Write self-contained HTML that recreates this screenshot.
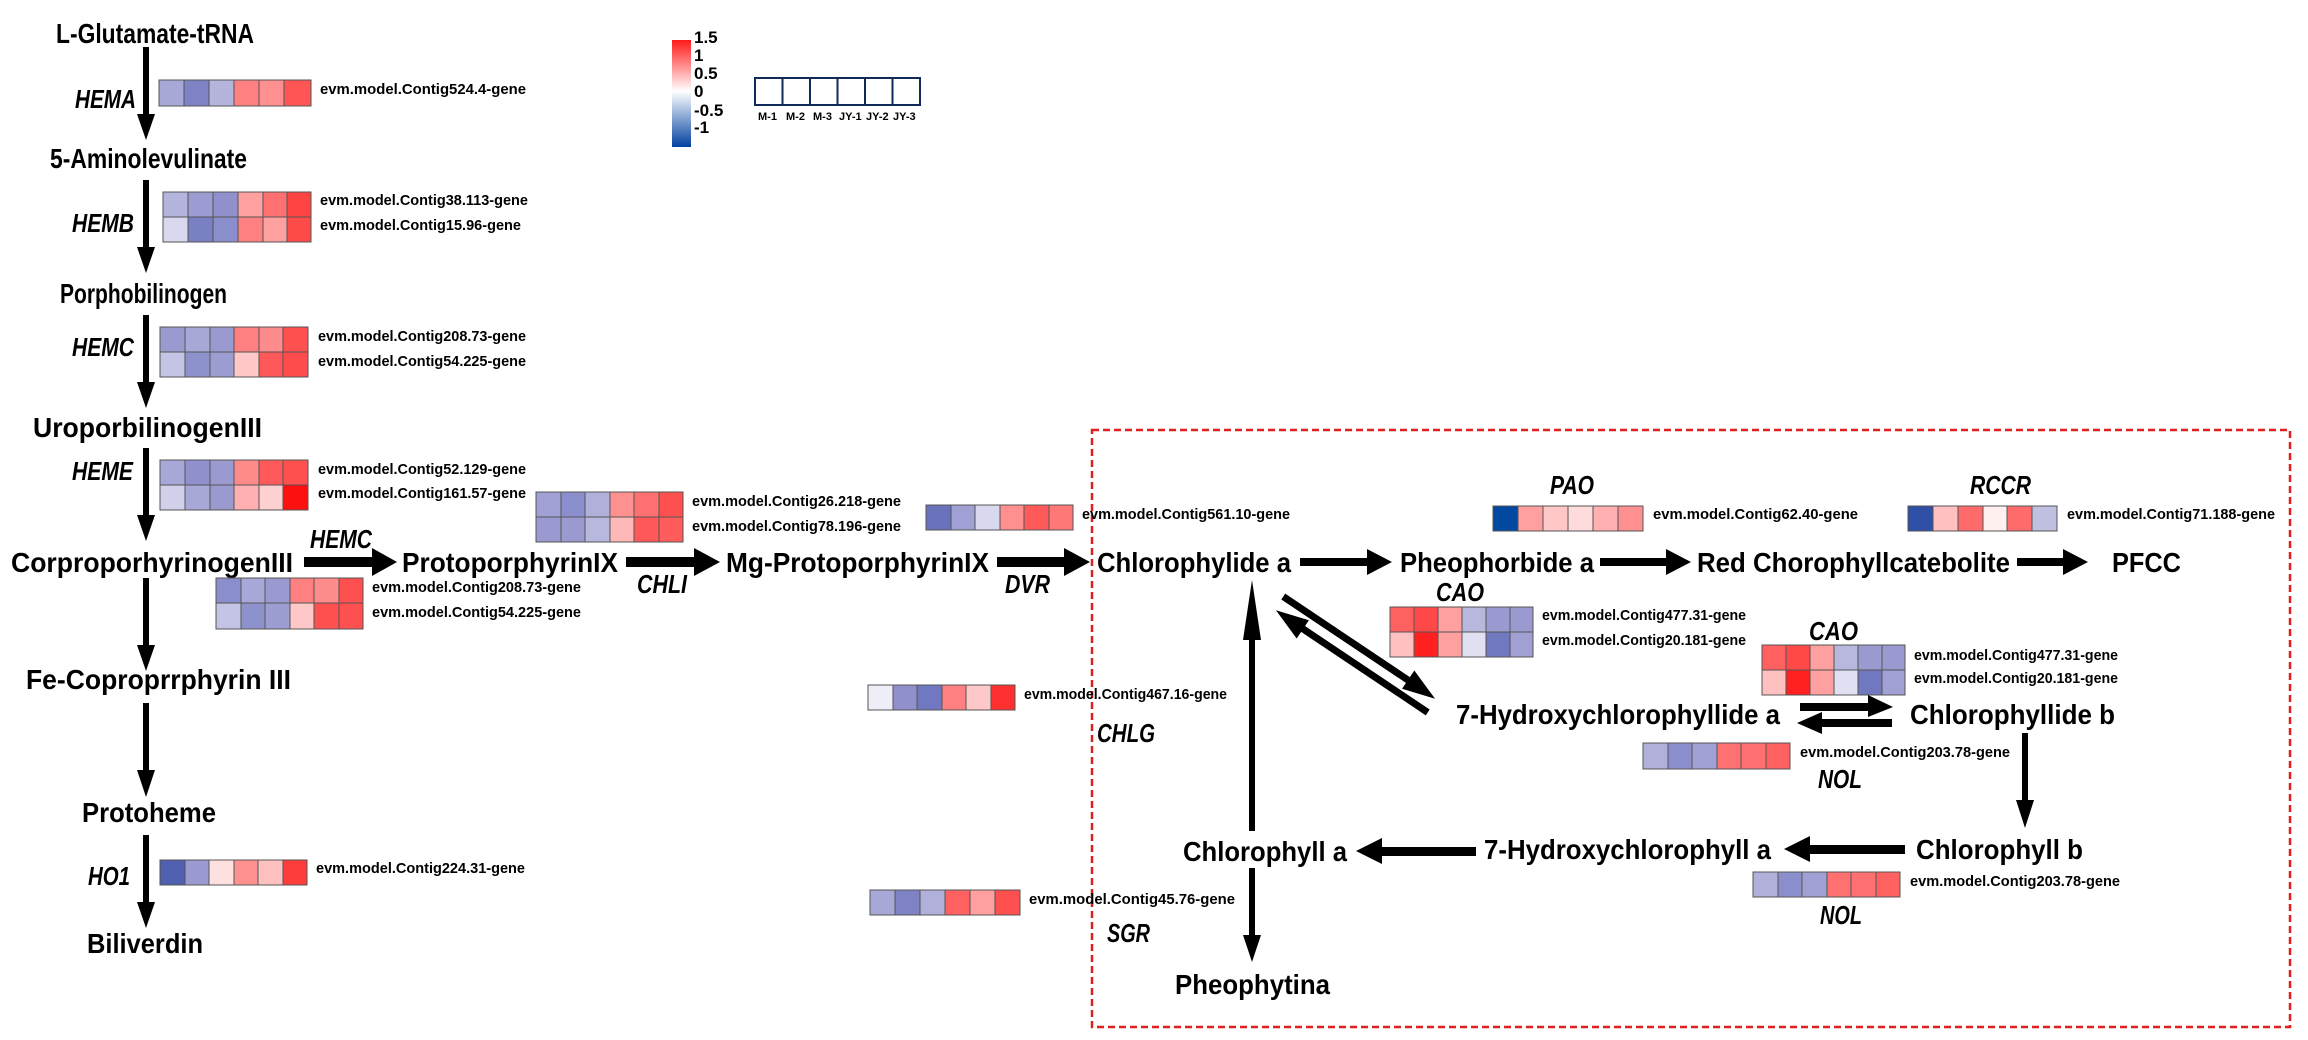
<!DOCTYPE html>
<html><head><meta charset="utf-8"><style>
html,body{margin:0;padding:0;background:#fff}
svg{display:block}
.n{font-family:"Liberation Sans Narrow","Liberation Sans",sans-serif;font-weight:bold;font-size:28px;fill:#000}
.e{font-family:"Liberation Sans Narrow","Liberation Sans",sans-serif;font-weight:bold;font-style:italic;font-size:26px;fill:#000}
.g{font-family:"Liberation Sans Narrow","Liberation Sans",sans-serif;font-weight:bold;font-size:15px;fill:#000}
.l{font-family:"Liberation Sans Narrow","Liberation Sans",sans-serif;font-weight:bold;font-size:17px;fill:#000}
.s{font-family:"Liberation Sans Narrow","Liberation Sans",sans-serif;font-weight:bold;font-size:11px;fill:#000}
.hm rect{stroke:#555;stroke-width:1}
</style></head><body>
<svg width="2308" height="1040" viewBox="0 0 2308 1040" xmlns="http://www.w3.org/2000/svg">
<defs>
<linearGradient id="cb" x1="0" y1="0" x2="0" y2="1">
<stop offset="0" stop-color="#ff1a1a"/><stop offset="0.48" stop-color="#ffffff"/><stop offset="1" stop-color="#0040a0"/>
</linearGradient>
</defs>

<rect x="1092" y="430" width="1198" height="597" fill="none" stroke="#e02020" stroke-width="2.5" stroke-dasharray="7,4"/>

<text class="n" x="56" y="43" textLength="198" lengthAdjust="spacingAndGlyphs">L-Glutamate-tRNA</text>
<text class="n" x="50" y="168" textLength="197" lengthAdjust="spacingAndGlyphs">5-Aminolevulinate</text>
<text class="n" x="60" y="303" textLength="167" lengthAdjust="spacingAndGlyphs">Porphobilinogen</text>
<text class="n" x="33" y="437" textLength="229" lengthAdjust="spacingAndGlyphs">UroporbilinogenIII</text>
<text class="n" x="11" y="572" textLength="282" lengthAdjust="spacingAndGlyphs">CorproporhyrinogenIII</text>
<text class="n" x="26" y="689" textLength="265" lengthAdjust="spacingAndGlyphs">Fe-Coproprrphyrin III</text>
<text class="n" x="82" y="822" textLength="134" lengthAdjust="spacingAndGlyphs">Protoheme</text>
<text class="n" x="87" y="953" textLength="116" lengthAdjust="spacingAndGlyphs">Biliverdin</text>

<g fill="#000">
<rect x="143" y="47" width="6" height="70"/><polygon points="137,114 155,114 146,140"/>
<rect x="143" y="180" width="6" height="70"/><polygon points="137,247 155,247 146,273"/>
<rect x="143" y="315" width="6" height="70"/><polygon points="137,382 155,382 146,408"/>
<rect x="143" y="448" width="6" height="70"/><polygon points="137,515 155,515 146,541"/>
<rect x="143" y="578" width="6" height="70"/><polygon points="137,645 155,645 146,671"/>
<rect x="143" y="703" width="6" height="70"/><polygon points="137,770 155,770 146,797"/>
<rect x="143" y="835" width="6" height="70"/><polygon points="137,902 155,902 146,928"/>
</g>

<text class="e" x="75" y="108" textLength="61" lengthAdjust="spacingAndGlyphs">HEMA</text>
<text class="e" x="72" y="232" textLength="62" lengthAdjust="spacingAndGlyphs">HEMB</text>
<text class="e" x="72" y="356" textLength="62" lengthAdjust="spacingAndGlyphs">HEMC</text>
<text class="e" x="72" y="480" textLength="61" lengthAdjust="spacingAndGlyphs">HEME</text>
<text class="e" x="88" y="885" textLength="42" lengthAdjust="spacingAndGlyphs">HO1</text>

<g class="hm">
<rect x="159" y="80" width="25" height="26" fill="#a8a8d8"/><rect x="184" y="80" width="25" height="26" fill="#7f83c6"/><rect x="209" y="80" width="25" height="26" fill="#b4b4dc"/><rect x="234" y="80" width="25" height="26" fill="#ff8080"/><rect x="259" y="80" width="25" height="26" fill="#ff9090"/><rect x="284" y="80" width="27" height="26" fill="#ff5555"/>
<rect x="163" y="192" width="25" height="25" fill="#b4b4dc"/><rect x="188" y="192" width="25" height="25" fill="#9c9cd2"/><rect x="213" y="192" width="25" height="25" fill="#9090cc"/><rect x="238" y="192" width="25" height="25" fill="#ffa0a0"/><rect x="263" y="192" width="24" height="25" fill="#ff7070"/><rect x="287" y="192" width="24" height="25" fill="#ff4444"/>
<rect x="163" y="217" width="25" height="25" fill="#d8d8ee"/><rect x="188" y="217" width="25" height="25" fill="#7a80c4"/><rect x="213" y="217" width="25" height="25" fill="#8a8ecc"/><rect x="238" y="217" width="25" height="25" fill="#ff8080"/><rect x="263" y="217" width="24" height="25" fill="#ffa0a0"/><rect x="287" y="217" width="24" height="25" fill="#ff4a4a"/>
<rect x="160" y="327" width="25" height="25" fill="#9a9ad0"/><rect x="185" y="327" width="25" height="25" fill="#a8a8d8"/><rect x="210" y="327" width="24" height="25" fill="#9a9ad0"/><rect x="234" y="327" width="25" height="25" fill="#ff8080"/><rect x="259" y="327" width="24" height="25" fill="#ff8c8c"/><rect x="283" y="327" width="25" height="25" fill="#ff5050"/>
<rect x="160" y="352" width="25" height="25" fill="#c4c4e4"/><rect x="185" y="352" width="25" height="25" fill="#8e92cc"/><rect x="210" y="352" width="24" height="25" fill="#9c9ed2"/><rect x="234" y="352" width="25" height="25" fill="#ffc8c8"/><rect x="259" y="352" width="24" height="25" fill="#ff5858"/><rect x="283" y="352" width="25" height="25" fill="#ff4c4c"/>
<rect x="160" y="460" width="25" height="25" fill="#a8a8d8"/><rect x="185" y="460" width="25" height="25" fill="#9090cc"/><rect x="210" y="460" width="24" height="25" fill="#9a9ad0"/><rect x="234" y="460" width="25" height="25" fill="#ff8a8a"/><rect x="259" y="460" width="24" height="25" fill="#ff5a5a"/><rect x="283" y="460" width="25" height="25" fill="#ff5050"/>
<rect x="160" y="485" width="25" height="25" fill="#d0d0ea"/><rect x="185" y="485" width="25" height="25" fill="#a8a8d8"/><rect x="210" y="485" width="24" height="25" fill="#9a9ad0"/><rect x="234" y="485" width="25" height="25" fill="#ffb0b0"/><rect x="259" y="485" width="24" height="25" fill="#ffd0d0"/><rect x="283" y="485" width="25" height="25" fill="#ff1010"/>
<rect x="536" y="492" width="25" height="25" fill="#a0a0d4"/><rect x="561" y="492" width="24" height="25" fill="#8a8ecc"/><rect x="585" y="492" width="25" height="25" fill="#b0b0da"/><rect x="610" y="492" width="24" height="25" fill="#ff9090"/><rect x="634" y="492" width="25" height="25" fill="#ff7070"/><rect x="659" y="492" width="24" height="25" fill="#ff5050"/>
<rect x="536" y="517" width="25" height="25" fill="#9a9ad0"/><rect x="561" y="517" width="24" height="25" fill="#9a9ad0"/><rect x="585" y="517" width="25" height="25" fill="#b8b8de"/><rect x="610" y="517" width="24" height="25" fill="#ffb8b8"/><rect x="634" y="517" width="25" height="25" fill="#ff5858"/><rect x="659" y="517" width="24" height="25" fill="#ff5c5c"/>
<rect x="926" y="505" width="25" height="25" fill="#6a72bc"/><rect x="951" y="505" width="24" height="25" fill="#a0a0d4"/><rect x="975" y="505" width="25" height="25" fill="#d8d8ee"/><rect x="1000" y="505" width="24" height="25" fill="#ff9090"/><rect x="1024" y="505" width="25" height="25" fill="#ff5a5a"/><rect x="1049" y="505" width="24" height="25" fill="#ff7878"/>
<rect x="216" y="578" width="25" height="25" fill="#8a8ecc"/><rect x="241" y="578" width="24" height="25" fill="#a8a8d8"/><rect x="265" y="578" width="25" height="25" fill="#9a9ad0"/><rect x="290" y="578" width="24" height="25" fill="#ff8080"/><rect x="314" y="578" width="25" height="25" fill="#ff8c8c"/><rect x="339" y="578" width="24" height="25" fill="#ff5050"/>
<rect x="216" y="603" width="25" height="26" fill="#c4c4e4"/><rect x="241" y="603" width="24" height="26" fill="#8e92cc"/><rect x="265" y="603" width="25" height="26" fill="#9c9ed2"/><rect x="290" y="603" width="24" height="26" fill="#ffc8c8"/><rect x="314" y="603" width="25" height="26" fill="#ff5050"/><rect x="339" y="603" width="24" height="26" fill="#ff5050"/>
<rect x="160" y="860" width="25" height="25" fill="#5060b0"/><rect x="185" y="860" width="24" height="25" fill="#9a9ad0"/><rect x="209" y="860" width="25" height="25" fill="#ffe0e0"/><rect x="234" y="860" width="24" height="25" fill="#ff9090"/><rect x="258" y="860" width="25" height="25" fill="#ffc0c0"/><rect x="283" y="860" width="24" height="25" fill="#ff3c3c"/>
<rect x="868" y="685" width="25" height="25" fill="#eeeef8"/><rect x="893" y="685" width="24" height="25" fill="#9090cc"/><rect x="917" y="685" width="25" height="25" fill="#7078c0"/><rect x="942" y="685" width="24" height="25" fill="#ff8080"/><rect x="966" y="685" width="25" height="25" fill="#ffc8c8"/><rect x="991" y="685" width="24" height="25" fill="#ff3030"/>
<rect x="870" y="890" width="25" height="25" fill="#a8a8d8"/><rect x="895" y="890" width="25" height="25" fill="#7f83c6"/><rect x="920" y="890" width="25" height="25" fill="#b0b0da"/><rect x="945" y="890" width="25" height="25" fill="#ff6060"/><rect x="970" y="890" width="25" height="25" fill="#ffa0a0"/><rect x="995" y="890" width="25" height="25" fill="#ff5050"/>
<rect x="1493" y="506" width="25" height="25" fill="#0048a0"/><rect x="1518" y="506" width="25" height="25" fill="#ffa0a0"/><rect x="1543" y="506" width="25" height="25" fill="#ffc8c8"/><rect x="1568" y="506" width="25" height="25" fill="#ffdcdc"/><rect x="1593" y="506" width="25" height="25" fill="#ffb0b0"/><rect x="1618" y="506" width="25" height="25" fill="#ff9090"/>
<rect x="1908" y="506" width="25" height="25" fill="#3050a8"/><rect x="1933" y="506" width="25" height="25" fill="#ffc0c0"/><rect x="1958" y="506" width="25" height="25" fill="#ff6a6a"/><rect x="1983" y="506" width="24" height="25" fill="#fff0f0"/><rect x="2007" y="506" width="25" height="25" fill="#ff6a6a"/><rect x="2032" y="506" width="25" height="25" fill="#c0c0e0"/>
<rect x="1390" y="607" width="24" height="25" fill="#ff6060"/><rect x="1414" y="607" width="24" height="25" fill="#ff4848"/><rect x="1438" y="607" width="24" height="25" fill="#ffa0a0"/><rect x="1462" y="607" width="24" height="25" fill="#b8b8de"/><rect x="1486" y="607" width="24" height="25" fill="#9a9ad0"/><rect x="1510" y="607" width="23" height="25" fill="#9a9ad0"/>
<rect x="1390" y="632" width="24" height="25" fill="#ffc0c0"/><rect x="1414" y="632" width="24" height="25" fill="#ff2020"/><rect x="1438" y="632" width="24" height="25" fill="#ffa0a0"/><rect x="1462" y="632" width="24" height="25" fill="#e0e0f2"/><rect x="1486" y="632" width="24" height="25" fill="#7078c0"/><rect x="1510" y="632" width="23" height="25" fill="#a0a0d4"/>
<rect x="1762" y="645" width="24" height="25" fill="#ff6060"/><rect x="1786" y="645" width="24" height="25" fill="#ff4848"/><rect x="1810" y="645" width="24" height="25" fill="#ffa0a0"/><rect x="1834" y="645" width="24" height="25" fill="#b8b8de"/><rect x="1858" y="645" width="24" height="25" fill="#9a9ad0"/><rect x="1882" y="645" width="23" height="25" fill="#9a9ad0"/>
<rect x="1762" y="670" width="24" height="25" fill="#ffc0c0"/><rect x="1786" y="670" width="24" height="25" fill="#ff2020"/><rect x="1810" y="670" width="24" height="25" fill="#ffa0a0"/><rect x="1834" y="670" width="24" height="25" fill="#e0e0f2"/><rect x="1858" y="670" width="24" height="25" fill="#7078c0"/><rect x="1882" y="670" width="23" height="25" fill="#a0a0d4"/>
<rect x="1643" y="743" width="25" height="26" fill="#b0b0da"/><rect x="1668" y="743" width="24" height="26" fill="#8a8ecc"/><rect x="1692" y="743" width="25" height="26" fill="#a0a0d4"/><rect x="1717" y="743" width="24" height="26" fill="#ff7070"/><rect x="1741" y="743" width="25" height="26" fill="#ff7070"/><rect x="1766" y="743" width="24" height="26" fill="#ff6060"/>
<rect x="1753" y="872" width="25" height="25" fill="#b0b0da"/><rect x="1778" y="872" width="24" height="25" fill="#8a8ecc"/><rect x="1802" y="872" width="25" height="25" fill="#a0a0d4"/><rect x="1827" y="872" width="24" height="25" fill="#ff7070"/><rect x="1851" y="872" width="25" height="25" fill="#ff7070"/><rect x="1876" y="872" width="24" height="25" fill="#ff6060"/>
</g>

<text class="g" x="320" y="94" textLength="206" lengthAdjust="spacingAndGlyphs">evm.model.Contig524.4-gene</text>
<text class="g" x="320" y="205" textLength="208" lengthAdjust="spacingAndGlyphs">evm.model.Contig38.113-gene</text>
<text class="g" x="320" y="230" textLength="201" lengthAdjust="spacingAndGlyphs">evm.model.Contig15.96-gene</text>
<text class="g" x="318" y="341" textLength="208" lengthAdjust="spacingAndGlyphs">evm.model.Contig208.73-gene</text>
<text class="g" x="318" y="366" textLength="208" lengthAdjust="spacingAndGlyphs">evm.model.Contig54.225-gene</text>
<text class="g" x="318" y="474" textLength="208" lengthAdjust="spacingAndGlyphs">evm.model.Contig52.129-gene</text>
<text class="g" x="318" y="498" textLength="208" lengthAdjust="spacingAndGlyphs">evm.model.Contig161.57-gene</text>
<text class="g" x="692" y="506" textLength="209" lengthAdjust="spacingAndGlyphs">evm.model.Contig26.218-gene</text>
<text class="g" x="692" y="531" textLength="209" lengthAdjust="spacingAndGlyphs">evm.model.Contig78.196-gene</text>
<text class="g" x="1082" y="519" textLength="208" lengthAdjust="spacingAndGlyphs">evm.model.Contig561.10-gene</text>
<text class="g" x="372" y="592" textLength="209" lengthAdjust="spacingAndGlyphs">evm.model.Contig208.73-gene</text>
<text class="g" x="372" y="617" textLength="209" lengthAdjust="spacingAndGlyphs">evm.model.Contig54.225-gene</text>
<text class="g" x="316" y="873" textLength="209" lengthAdjust="spacingAndGlyphs">evm.model.Contig224.31-gene</text>
<text class="g" x="1024" y="699" textLength="203" lengthAdjust="spacingAndGlyphs">evm.model.Contig467.16-gene</text>
<text class="g" x="1029" y="904" textLength="206" lengthAdjust="spacingAndGlyphs">evm.model.Contig45.76-gene</text>
<text class="g" x="1653" y="519" textLength="205" lengthAdjust="spacingAndGlyphs">evm.model.Contig62.40-gene</text>
<text class="g" x="2067" y="519" textLength="208" lengthAdjust="spacingAndGlyphs">evm.model.Contig71.188-gene</text>
<text class="g" x="1542" y="620" textLength="204" lengthAdjust="spacingAndGlyphs">evm.model.Contig477.31-gene</text>
<text class="g" x="1542" y="645" textLength="204" lengthAdjust="spacingAndGlyphs">evm.model.Contig20.181-gene</text>
<text class="g" x="1914" y="660" textLength="204" lengthAdjust="spacingAndGlyphs">evm.model.Contig477.31-gene</text>
<text class="g" x="1914" y="683" textLength="204" lengthAdjust="spacingAndGlyphs">evm.model.Contig20.181-gene</text>
<text class="g" x="1800" y="757" textLength="210" lengthAdjust="spacingAndGlyphs">evm.model.Contig203.78-gene</text>
<text class="g" x="1910" y="886" textLength="210" lengthAdjust="spacingAndGlyphs">evm.model.Contig203.78-gene</text>

<rect x="672" y="40" width="19" height="107" fill="url(#cb)"/>
<text class="l" x="694" y="43">1.5</text>
<text class="l" x="694" y="61">1</text>
<text class="l" x="694" y="79">0.5</text>
<text class="l" x="694" y="97">0</text>
<text class="l" x="694" y="116">-0.5</text>
<text class="l" x="694" y="133">-1</text>
<g fill="#fff" stroke="#102a5a" stroke-width="2">
<rect x="755" y="78" width="27.5" height="27"/><rect x="782.5" y="78" width="27.5" height="27"/><rect x="810" y="78" width="27.5" height="27"/><rect x="837.5" y="78" width="27.5" height="27"/><rect x="865" y="78" width="27.5" height="27"/><rect x="892.5" y="78" width="27.5" height="27"/>
</g>
<text class="s" x="758" y="120">M-1</text><text class="s" x="786" y="120">M-2</text><text class="s" x="813" y="120">M-3</text><text class="s" x="839" y="120">JY-1</text><text class="s" x="866" y="120">JY-2</text><text class="s" x="893" y="120">JY-3</text>

<text class="n" x="402" y="572" textLength="216" lengthAdjust="spacingAndGlyphs">ProtoporphyrinIX</text>
<text class="n" x="726" y="572" textLength="263" lengthAdjust="spacingAndGlyphs">Mg-ProtoporphyrinIX</text>
<text class="n" x="1097" y="572" textLength="194" lengthAdjust="spacingAndGlyphs">Chlorophylide a</text>
<text class="n" x="1400" y="572" textLength="194" lengthAdjust="spacingAndGlyphs">Pheophorbide a</text>
<text class="n" x="1697" y="572" textLength="313" lengthAdjust="spacingAndGlyphs">Red Chorophyllcatebolite</text>
<text class="n" x="2112" y="572" textLength="69" lengthAdjust="spacingAndGlyphs">PFCC</text>

<text class="e" x="310" y="548" textLength="62" lengthAdjust="spacingAndGlyphs">HEMC</text>
<text class="e" x="637" y="593" textLength="50" lengthAdjust="spacingAndGlyphs">CHLI</text>
<text class="e" x="1005" y="593" textLength="45" lengthAdjust="spacingAndGlyphs">DVR</text>
<text class="e" x="1550" y="494" textLength="44" lengthAdjust="spacingAndGlyphs">PAO</text>
<text class="e" x="1970" y="494" textLength="61" lengthAdjust="spacingAndGlyphs">RCCR</text>
<text class="e" x="1436" y="601" textLength="48" lengthAdjust="spacingAndGlyphs">CAO</text>
<text class="e" x="1809" y="640" textLength="49" lengthAdjust="spacingAndGlyphs">CAO</text>
<text class="e" x="1818" y="788" textLength="44" lengthAdjust="spacingAndGlyphs">NOL</text>
<text class="e" x="1820" y="924" textLength="42" lengthAdjust="spacingAndGlyphs">NOL</text>
<text class="e" x="1097" y="742" textLength="58" lengthAdjust="spacingAndGlyphs">CHLG</text>
<text class="e" x="1107" y="942" textLength="43" lengthAdjust="spacingAndGlyphs">SGR</text>

<g fill="#000">
<rect x="304" y="557" width="70" height="10"/><polygon points="372,548 372,576 397,562"/>
<rect x="626" y="557" width="70" height="10"/><polygon points="694,548 694,576 720,562"/>
<rect x="997" y="557" width="70" height="10"/><polygon points="1064,548 1064,576 1090,562"/>
<rect x="1300" y="558" width="70" height="8"/><polygon points="1367,549 1367,575 1392,562"/>
<rect x="1600" y="558" width="68" height="8"/><polygon points="1666,549 1666,575 1691,562"/>
<rect x="2017" y="558" width="48" height="8"/><polygon points="2063,549 2063,575 2088,562"/>
<rect x="1800" y="703" width="70" height="8"/><polygon points="1868,695 1868,717 1893,707"/>
<rect x="1820" y="719" width="72" height="8"/><polygon points="1822,712 1822,734 1797,723"/>
<rect x="2022" y="733" width="6" height="70"/><polygon points="2016,800 2034,800 2025,828"/>
<rect x="1808" y="845" width="97" height="9"/><polygon points="1810,836 1810,862 1784,849"/>
<rect x="1380" y="847" width="96" height="9"/><polygon points="1382,838 1382,864 1356,851"/>
<rect x="1249" y="610" width="6" height="221"/><polygon points="1243,640 1261,640 1252,580"/>
<rect x="1249" y="868" width="6" height="70"/><polygon points="1243,935 1261,935 1252,962"/>
<g transform="translate(1283,597) rotate(33.8)">
<rect x="0" y="-4" width="155" height="7"/><polygon points="150,-12 150,10 183,0"/>
</g>
<g transform="translate(1428,712) rotate(213.8)">
<rect x="0" y="-4" width="155" height="7"/><polygon points="150,-12 150,10 183,0"/>
</g>
</g>

<text class="n" x="1456" y="724" textLength="324" lengthAdjust="spacingAndGlyphs">7-Hydroxychlorophyllide a</text>
<text class="n" x="1910" y="724" textLength="205" lengthAdjust="spacingAndGlyphs">Chlorophyllide b</text>
<text class="n" x="1916" y="859" textLength="167" lengthAdjust="spacingAndGlyphs">Chlorophyll b</text>
<text class="n" x="1484" y="859" textLength="287" lengthAdjust="spacingAndGlyphs">7-Hydroxychlorophyll a</text>
<text class="n" x="1183" y="861" textLength="164" lengthAdjust="spacingAndGlyphs">Chlorophyll a</text>
<text class="n" x="1175" y="994" textLength="155" lengthAdjust="spacingAndGlyphs">Pheophytina</text>
</svg>
</body></html>
